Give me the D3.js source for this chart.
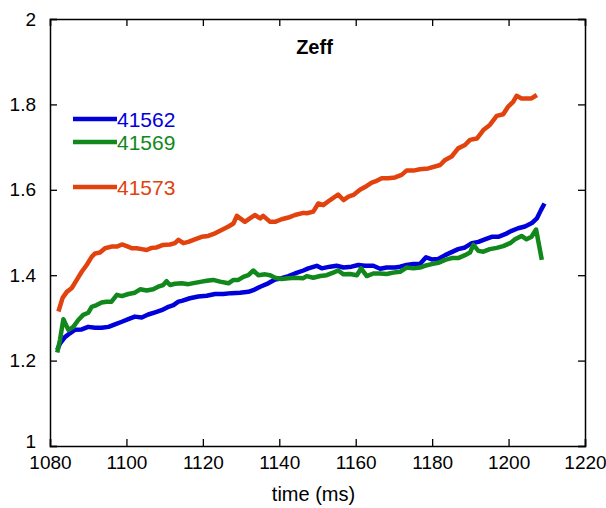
<!DOCTYPE html>
<html>
<head>
<meta charset="utf-8">
<script src="https://cdn.jsdelivr.net/npm/d3@7"></script>
<style>
  body { margin: 0; background: #fff; }
  svg { font-family: "Liberation Sans", Arial, sans-serif; }
</style>
</head>
<body>
<div class="chart"></div>
<script>
// Zeff traces
const shots = ['41562', '41569', '41573'];
const colors = ['#0000dc', '#11881b', '#e2420d'];

const t41562 = [1081.9,1082.6,1083.9,1085.2,1086.5,1088.3,1090.0,1091.8,1093.5,1095.3,1097.0,1098.8,1100.5,1102.2,1104.0,1105.7,1107.5,1109.2,1111.0,1112.3,1113.6,1114.5,1116.6,1118.8,1121.0,1123.2,1125.3,1127.5,1129.7,1131.9,1133.2,1135.0,1137.1,1138.9,1140.6,1142.4,1144.1,1146.3,1147.6,1149.8,1151.1,1153.3,1155.0,1156.8,1158.9,1160.7,1162.4,1164.6,1166.4,1168.1,1170.3,1171.6,1173.3,1175.1,1176.8,1178.4,1179.9,1181.6,1183.4,1185.1,1186.8,1188.6,1190.4,1192.1,1193.8,1195.6,1197.3,1199.1,1200.8,1202.5,1204.3,1206.1,1207.4,1208.5,1209.4];
const z41562 = [1.225,1.240,1.255,1.264,1.272,1.273,1.279,1.277,1.277,1.279,1.285,1.291,1.297,1.303,1.301,1.308,1.313,1.318,1.326,1.330,1.338,1.340,1.346,1.350,1.352,1.356,1.356,1.358,1.359,1.361,1.365,1.373,1.381,1.390,1.393,1.398,1.404,1.411,1.416,1.422,1.416,1.420,1.422,1.418,1.420,1.424,1.422,1.422,1.415,1.418,1.418,1.420,1.424,1.426,1.426,1.442,1.437,1.438,1.447,1.454,1.461,1.465,1.475,1.478,1.484,1.490,1.490,1.496,1.504,1.510,1.514,1.522,1.533,1.553,1.568];

const t41569 = [1081.9,1082.6,1083.5,1084.8,1086.1,1087.4,1088.7,1090.0,1090.9,1092.2,1093.5,1094.8,1096.1,1097.5,1098.8,1100.5,1102.2,1103.6,1105.3,1107.0,1108.3,1109.6,1110.5,1111.4,1112.7,1114.5,1116.2,1117.9,1119.7,1121.0,1122.7,1124.5,1126.7,1128.0,1129.3,1130.6,1131.9,1133.2,1134.5,1136.3,1137.6,1138.9,1140.6,1142.4,1144.1,1146.3,1147.2,1148.9,1150.7,1152.4,1154.1,1155.4,1156.8,1158.5,1160.3,1161.4,1162.9,1164.6,1166.4,1168.1,1169.8,1171.6,1173.3,1175.1,1176.8,1178.1,1179.9,1181.6,1183.4,1185.1,1186.8,1188.6,1189.9,1190.8,1192.1,1193.4,1195.1,1196.9,1198.6,1200.4,1201.7,1203.4,1204.7,1206.0,1207.2,1208.7];
const z41569 = [1.219,1.248,1.297,1.272,1.279,1.295,1.307,1.312,1.326,1.330,1.336,1.338,1.338,1.354,1.351,1.356,1.359,1.367,1.364,1.367,1.373,1.377,1.386,1.377,1.380,1.381,1.379,1.382,1.385,1.387,1.389,1.385,1.381,1.389,1.389,1.396,1.400,1.411,1.400,1.402,1.400,1.394,1.391,1.393,1.394,1.393,1.398,1.394,1.398,1.400,1.406,1.411,1.402,1.403,1.400,1.416,1.398,1.404,1.404,1.403,1.406,1.408,1.418,1.416,1.418,1.422,1.426,1.429,1.436,1.440,1.440,1.447,1.453,1.471,1.457,1.455,1.461,1.464,1.468,1.475,1.484,1.492,1.484,1.490,1.507,1.436];

const t41573 = [1082.2,1083.3,1084.4,1085.7,1087.0,1088.3,1089.6,1090.9,1091.8,1093.1,1094.4,1096.1,1097.5,1098.8,1100.1,1101.4,1102.7,1104.0,1105.3,1106.6,1107.9,1109.6,1111.4,1112.7,1113.6,1114.9,1116.2,1117.9,1119.7,1121.4,1123.2,1124.9,1126.7,1128.0,1128.9,1131.0,1132.3,1133.6,1135.0,1135.8,1137.6,1138.9,1140.6,1142.4,1144.1,1146.3,1147.2,1148.9,1150.2,1151.5,1153.3,1155.4,1156.8,1158.1,1159.4,1161.1,1162.9,1164.2,1165.5,1166.8,1168.5,1170.3,1172.0,1173.3,1175.1,1176.8,1179.0,1182.1,1183.4,1185.1,1186.8,1188.6,1189.9,1191.7,1193.4,1195.1,1196.9,1198.6,1199.9,1201.2,1202.1,1203.4,1204.7,1206.0,1207.4];
const z41573 = [1.315,1.347,1.361,1.370,1.389,1.408,1.424,1.443,1.451,1.453,1.463,1.467,1.467,1.472,1.468,1.463,1.463,1.461,1.459,1.464,1.465,1.471,1.472,1.475,1.483,1.475,1.478,1.484,1.490,1.492,1.498,1.506,1.514,1.521,1.539,1.525,1.533,1.541,1.533,1.539,1.525,1.525,1.531,1.535,1.541,1.546,1.545,1.549,1.568,1.564,1.576,1.589,1.576,1.584,1.588,1.600,1.609,1.617,1.621,1.627,1.627,1.629,1.635,1.645,1.645,1.648,1.650,1.658,1.670,1.678,1.697,1.705,1.717,1.720,1.740,1.752,1.773,1.777,1.795,1.806,1.820,1.814,1.814,1.814,1.822];

const xTicks = [1080, 1100, 1120, 1140, 1160, 1180, 1200, 1220];
const yTicks = [1, 1.2, 1.4, 1.6, 1.8, 2];

const series = [
  {name: shots[0], t: t41562, z: z41562, color: colors[0]},
  {name: shots[1], t: t41569, z: z41569, color: colors[1]},
  {name: shots[2], t: t41573, z: z41573, color: colors[2]}
];

let width = 606;
let height = 508;
let margin = {left: 50, right: 21, top: 19, bottom: 62};
let innerW = width - margin.left - margin.right;
let innerH = height - margin.top - margin.bottom;

let svg = d3.select('.chart').append('svg')
  .attr('width', width)
  .attr('height', height);

let g = svg.append('g').attr('transform', `translate(${margin.left},${margin.top})`);

let x = d3.scaleLinear().domain([1080, 1220]).range([0, innerW]);
let y = d3.scaleLinear().domain([1, 2]).range([innerH, 0]);

// axes with inward ticks, mirrored on top and right
let tickLen = 7;
let bottomAxis = g.append('g').attr('transform', `translate(0,${innerH})`)
  .call(d3.axisBottom(x).tickValues(xTicks).tickSize(-tickLen).tickPadding(10).tickFormat(d3.format('d')));
let topAxis = g.append('g')
  .call(d3.axisTop(x).tickValues(xTicks).tickSize(-tickLen).tickFormat(''));
let leftAxis = g.append('g')
  .call(d3.axisLeft(y).tickValues(yTicks).tickSize(-tickLen).tickPadding(14).tickFormat(d => d3.format('')(+d.toFixed(1))));
let rightAxis = g.append('g').attr('transform', `translate(${innerW},0)`)
  .call(d3.axisRight(y).tickValues(yTicks).tickSize(-tickLen).tickFormat(''));

[bottomAxis, topAxis, leftAxis, rightAxis].forEach(a => {
  a.select('.domain').attr('stroke', '#000').attr('stroke-width', 1.5);
  a.selectAll('.tick line').attr('stroke', '#000').attr('stroke-width', 1.3);
  a.selectAll('.tick text').attr('fill', '#000').style('font-size', '19px');
});

// lowest y label sits a bit higher, clear of the x labels
leftAxis.selectAll('.tick').filter(d => d === 1).select('text').attr('y', -5);

let line = d3.line()
  .x(d => x(d[0]))
  .y(d => y(d[1]));

series.forEach(s => {
  let pts = s.t.map((t, i) => [t, s.z[i]]);
  g.append('path')
    .datum(pts)
    .attr('fill', 'none')
    .attr('stroke', s.color)
    .attr('stroke-width', 4.5)
    .attr('stroke-linejoin', 'round')
    .attr('d', line);
});

// title
g.append('text')
  .attr('x', innerW / 2 - 3)
  .attr('y', 35)
  .attr('text-anchor', 'middle')
  .style('font-size', '20px')
  .style('font-weight', 'bold')
  .text('Zeff');

// legend
let legendRows = [119, 142, 187];
series.forEach((s, i) => {
  let ly = legendRows[i];
  svg.append('line')
    .attr('x1', 73).attr('x2', 117)
    .attr('y1', ly).attr('y2', ly)
    .attr('stroke', s.color)
    .attr('stroke-width', 4.5);
  svg.append('text')
    .attr('x', 117)
    .attr('y', ly + 8)
    .attr('fill', s.color)
    .style('font-size', '21px')
    .text(s.name);
});

// x title
svg.append('text')
  .attr('x', margin.left + innerW / 2 - 4)
  .attr('y', 501)
  .attr('text-anchor', 'middle')
  .style('font-size', '20px')
  .text('time (ms)');
</script>
</body>
</html>
